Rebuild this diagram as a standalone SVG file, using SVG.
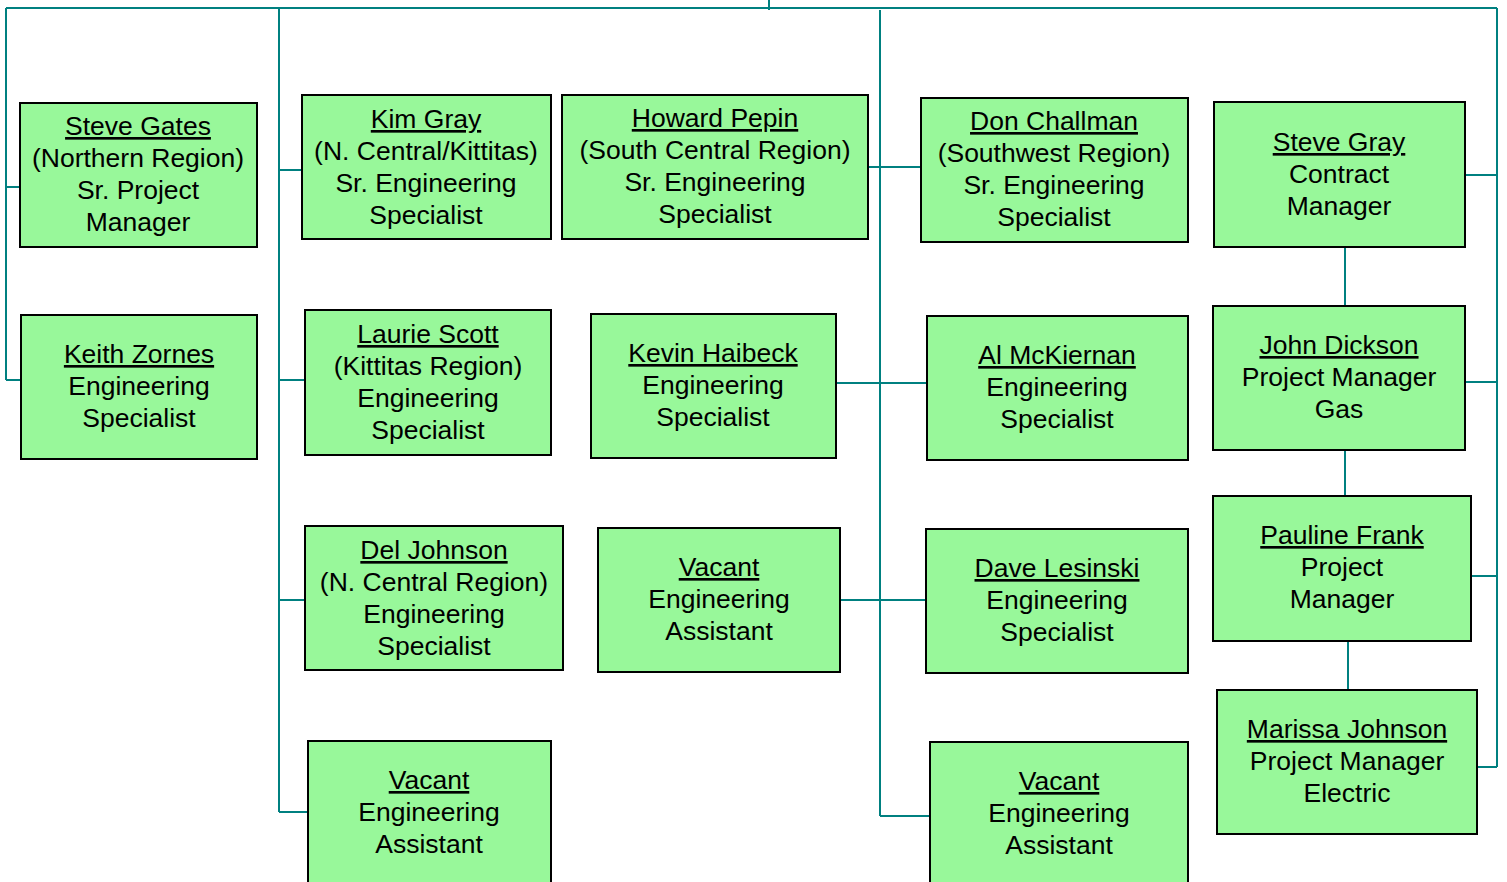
<svg xmlns="http://www.w3.org/2000/svg" width="1507" height="882" viewBox="0 0 1507 882">
<style>
.box{fill:#98F89A;stroke:#000;stroke-width:2}
.t{font-family:"Liberation Sans",Arial,sans-serif;font-size:26.5px;fill:#000;text-anchor:middle}
.n{text-decoration:underline}
.c{fill:none;stroke:#008080;stroke-width:2}
</style>
<rect width="1507" height="882" fill="#fff"/>
<g id="connectors">
<path class="c" d="M769 0V10M6 8H1497"/>
<path class="c" d="M6 8V380M6 187H20M6 380H21"/>
<path class="c" d="M279 8V812M279 170H302M279 380H305M279 600H305M279 812H308"/>
<path class="c" d="M880 10V816M868 167H921M836 383H927M840 600H925M880 816H930"/>
<path class="c" d="M1497 8V767M1465 175H1497M1465 382H1497M1471 576H1497M1477 767H1497"/>
<path class="c" d="M1345 247V306M1345 450V496M1348 641V690"/>
</g>
<g id="steve-gates"><rect class="box" x="20" y="103" width="237" height="144"/>
<text class="t"><tspan class="n" x="138" y="135">Steve Gates</tspan><tspan x="138" y="167">(Northern Region)</tspan><tspan x="138" y="199">Sr. Project</tspan><tspan x="138" y="231">Manager</tspan></text></g>
<g id="keith-zornes"><rect class="box" x="21" y="315" width="236" height="144"/>
<text class="t"><tspan class="n" x="139" y="363">Keith Zornes</tspan><tspan x="139" y="395">Engineering</tspan><tspan x="139" y="427">Specialist</tspan></text></g>
<g id="kim-gray"><rect class="box" x="302" y="95" width="249" height="144"/>
<text class="t"><tspan class="n" x="426" y="128">Kim Gray</tspan><tspan x="426" y="160">(N. Central/Kittitas)</tspan><tspan x="426" y="192">Sr. Engineering</tspan><tspan x="426" y="224">Specialist</tspan></text></g>
<g id="laurie-scott"><rect class="box" x="305" y="310" width="246" height="145"/>
<text class="t"><tspan class="n" x="428" y="343">Laurie Scott</tspan><tspan x="428" y="375">(Kittitas Region)</tspan><tspan x="428" y="407">Engineering</tspan><tspan x="428" y="439">Specialist</tspan></text></g>
<g id="del-johnson"><rect class="box" x="305" y="526" width="258" height="144"/>
<text class="t"><tspan class="n" x="434" y="559">Del Johnson</tspan><tspan x="434" y="591">(N. Central Region)</tspan><tspan x="434" y="623">Engineering</tspan><tspan x="434" y="655">Specialist</tspan></text></g>
<g id="vacant-1"><rect class="box" x="308" y="741" width="243" height="150"/>
<text class="t"><tspan class="n" x="429" y="789">Vacant</tspan><tspan x="429" y="821">Engineering</tspan><tspan x="429" y="853">Assistant</tspan></text></g>
<g id="howard-pepin"><rect class="box" x="562" y="95" width="306" height="144"/>
<text class="t"><tspan class="n" x="715" y="127">Howard Pepin</tspan><tspan x="715" y="159">(South Central Region)</tspan><tspan x="715" y="191">Sr. Engineering</tspan><tspan x="715" y="223">Specialist</tspan></text></g>
<g id="kevin-haibeck"><rect class="box" x="591" y="314" width="245" height="144"/>
<text class="t"><tspan class="n" x="713" y="362">Kevin Haibeck</tspan><tspan x="713" y="394">Engineering</tspan><tspan x="713" y="426">Specialist</tspan></text></g>
<g id="vacant-2"><rect class="box" x="598" y="528" width="242" height="144"/>
<text class="t"><tspan class="n" x="719" y="576">Vacant</tspan><tspan x="719" y="608">Engineering</tspan><tspan x="719" y="640">Assistant</tspan></text></g>
<g id="don-challman"><rect class="box" x="921" y="98" width="267" height="144"/>
<text class="t"><tspan class="n" x="1054" y="130">Don Challman</tspan><tspan x="1054" y="162">(Southwest Region)</tspan><tspan x="1054" y="194">Sr. Engineering</tspan><tspan x="1054" y="226">Specialist</tspan></text></g>
<g id="al-mckiernan"><rect class="box" x="927" y="316" width="261" height="144"/>
<text class="t"><tspan class="n" x="1057" y="364">Al McKiernan</tspan><tspan x="1057" y="396">Engineering</tspan><tspan x="1057" y="428">Specialist</tspan></text></g>
<g id="dave-lesinski"><rect class="box" x="926" y="529" width="262" height="144"/>
<text class="t"><tspan class="n" x="1057" y="577">Dave Lesinski</tspan><tspan x="1057" y="609">Engineering</tspan><tspan x="1057" y="641">Specialist</tspan></text></g>
<g id="vacant-3"><rect class="box" x="930" y="742" width="258" height="150"/>
<text class="t"><tspan class="n" x="1059" y="790">Vacant</tspan><tspan x="1059" y="822">Engineering</tspan><tspan x="1059" y="854">Assistant</tspan></text></g>
<g id="steve-gray"><rect class="box" x="1214" y="102" width="251" height="145"/>
<text class="t"><tspan class="n" x="1339" y="151">Steve Gray</tspan><tspan x="1339" y="183">Contract</tspan><tspan x="1339" y="215">Manager</tspan></text></g>
<g id="john-dickson"><rect class="box" x="1213" y="306" width="252" height="144"/>
<text class="t"><tspan class="n" x="1339" y="354">John Dickson</tspan><tspan x="1339" y="386">Project Manager</tspan><tspan x="1339" y="418">Gas</tspan></text></g>
<g id="pauline-frank"><rect class="box" x="1213" y="496" width="258" height="145"/>
<text class="t"><tspan class="n" x="1342" y="544">Pauline Frank</tspan><tspan x="1342" y="576">Project</tspan><tspan x="1342" y="608">Manager</tspan></text></g>
<g id="marissa-johnson"><rect class="box" x="1217" y="690" width="260" height="144"/>
<text class="t"><tspan class="n" x="1347" y="738">Marissa Johnson</tspan><tspan x="1347" y="770">Project Manager</tspan><tspan x="1347" y="802">Electric</tspan></text></g>
</svg>
